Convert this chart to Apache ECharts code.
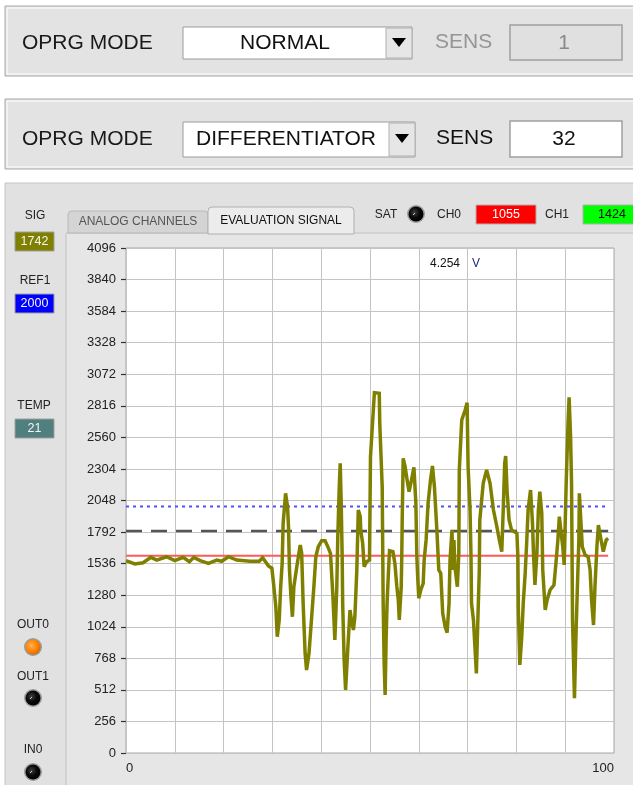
<!DOCTYPE html>
<html>
<head>
<meta charset="utf-8">
<script src="https://cdn.jsdelivr.net/npm/echarts@6/dist/echarts.min.js"></script>
<style>
html,body{margin:0;padding:0;background:#ffffff;}
#chart{width:633px;height:785px;}
</style>
</head>
<body>
<div id="chart"></div>
<script>
// ---- data ----
const sigX = [0,1.8,3.5,5.1,6.3,8.3,10.0,11.7,13.0,13.9,15.2,16.9,18.6,19.6,21.0,22.7,25.4,27.3,28.0,29.2,29.9,30.3,30.7,31.0,31.4,31.7,32.0,32.2,32.7,33.1,33.3,33.5,33.8,34.1,34.4,35.0,35.7,36.0,36.3,36.7,37.0,37.5,38.1,38.5,38.9,39.4,40.1,40.8,41.5,41.9,42.4,42.8,43.2,43.4,43.7,43.9,44.1,44.3,44.4,44.7,45.0,45.4,45.9,46.2,46.6,46.9,47.3,47.6,48.0,48.1,48.5,48.8,49.3,49.9,50.1,50.6,50.9,51.0,51.9,52.0,52.5,52.7,52.9,53.1,53.3,53.5,53.8,54.0,54.7,55.1,55.5,55.8,56.0,56.4,56.5,56.6,56.8,57.2,57.5,58.0,58.5,59.0,59.4,59.6,59.8,60.0,60.4,60.9,61.1,61.5,61.9,62.4,62.8,63.2,63.7,64.1,64.5,64.9,65.4,65.8,66.2,66.4,66.8,67.0,67.2,67.4,67.9,68.2,68.3,68.8,69.5,69.9,70.1,70.5,70.7,70.8,71.2,71.5,71.8,72.1,72.4,72.5,73.2,73.9,74.6,75.3,76.0,76.5,77.0,77.3,77.6,77.8,78.1,78.5,79.0,80.1,80.3,80.4,80.7,81.1,81.4,81.8,82.1,82.4,82.9,83.3,83.5,83.8,84.2,84.5,84.8,85.2,85.4,85.9,86.3,86.9,87.7,88.1,88.5,88.8,89.1,89.5,89.8,90.2,90.6,90.8,91.1,91.3,91.5,91.9,92.2,92.5,92.8,92.9,93.2,93.5,94.1,94.7,95.1,95.4,95.8,96.1,96.5,96.8,97.1,97.8,98.4,98.8];
const sigY = [1560,1533,1543,1587,1565,1592,1560,1587,1552,1587,1560,1538,1565,1555,1592,1565,1555,1555,1584,1517,1498,1349,1187,943,1079,1349,1538,1863,2106,1998,1835,1484,1268,1105,1349,1511,1687,1620,1214,809,673,809,1133,1349,1592,1673,1722,1722,1660,1620,1268,917,1349,1754,2160,2350,2025,1592,1214,754,511,809,1160,1079,998,1105,1484,1971,1917,1809,1701,1511,1552,1565,2403,2728,2922,2922,2917,2674,2160,1214,727,470,917,1214,1484,1641,1633,1538,1349,1241,1079,1349,1565,1890,2390,2322,2241,2119,2214,2317,2025,1592,1403,1255,1322,1376,1565,1728,2025,2214,2328,2160,1809,1484,1457,1133,1024,976,1214,1565,1809,1484,1728,1511,1349,1620,2296,2701,2782,2841,2322,1971,1592,1214,1079,862,646,1079,1484,1890,2187,2296,2187,1971,1835,1728,1633,1971,2350,2409,2119,1890,1809,1782,1592,1160,714,943,1214,1457,1701,1971,2133,1863,1620,1363,1620,1971,2119,1944,1484,1160,1241,1322,1363,1538,1728,1917,1809,1673,1525,2187,2701,2885,2566,2187,1079,444,943,1349,1728,2106,1890,1673,1606,1592,1484,1241,1038,1349,1673,1849,1782,1633,1728,1741];
const lineSpan = [0, 98.8];
const redLevel = 1600;
const dashLevel = 1800;
const ref1Level = 2000;
const yTickValues = [0,256,512,768,1024,1280,1536,1792,2048,2304,2560,2816,3072,3328,3584,3840,4096];
const xTickLabels = [0, 100];
const sigValue = '1742', ref1Value = '2000', tempValue = '21', ch0Value = '1055', ch1Value = '1424';
const voltText = '4.254';

const FF = '"Liberation Sans", Arial, sans-serif';
const chart = echarts.init(document.getElementById('chart'));

function txt(text, x, y, size, color, align, extra) {
  return Object.assign({type:'text', z:50, style:{text:text, x:x, y:y, font: size+'px '+FF, fill:color, textAlign:align||'center', textVerticalAlign:'middle'}}, extra||{});
}
function rect(x,y,w,h,fill,stroke,lw,z,r){
  return {type:'rect', z: z===undefined?-5:z, shape:{x:x,y:y,width:w,height:h,r:r||0}, style:{fill:fill, stroke:stroke||null, lineWidth:lw||1}};
}
function led(cx,cy,on){
  const fill = on ? {type:'radial',x:0.4,y:0.4,r:0.7,colorStops:[{offset:0,color:'#ffb050'},{offset:0.6,color:'#ff8000'},{offset:1,color:'#d06000'}]}
                  : {type:'radial',x:0.4,y:0.4,r:0.7,colorStops:[{offset:0,color:'#404040'},{offset:0.5,color:'#080808'},{offset:1,color:'#000000'}]};
  const els = [
    {type:'circle', z:40, shape:{cx:cx,cy:cy,r:9}, style:{fill:'#9a9a9a'}},
    {type:'circle', z:41, shape:{cx:cx,cy:cy,r:7.5}, style:{fill:fill}}
  ];
  if(!on) els.push({type:'line', z:42, shape:{x1:cx-3,y1:cy+1,x2:cx-1,y2:cy-1}, style:{stroke:'#d0d0d0', lineWidth:1}});
  return els;
}

const graphics = [];
// top panels
graphics.push(rect(5,6,640,70,'#e3e3e3','#a8a8a8',1,-20));
graphics.push(rect(7,8,640,66,null,'#ffffff',1,-19));
graphics.push(rect(5,99,640,70,'#e3e3e3','#a8a8a8',1,-20));
graphics.push(rect(7,101,640,66,null,'#ffffff',1,-19));
// main area
graphics.push(rect(5,183,640,610,'#e1e1e1','#c4c4c4',1,-20));
// chart frame panel
graphics.push(rect(66,233,580,560,'#e6e6e6','#c0c0c0',1,-15));

// panel 1
graphics.push(txt('OPRG MODE',22,43,21,'#1a1a1a','left'));
graphics.push(rect(183,27,229,32,'#ffffff','#9a9a9a',1,-10));
graphics.push(rect(386,28,26,30,'#e6e6e6','#b0b0b0',1,-9));
graphics.push({type:'polygon', z:30, shape:{points:[[392,38],[406,38],[399,47]]}, style:{fill:'#000'}});
graphics.push(txt('NORMAL',285,43,21,'#111','center'));
graphics.push(txt('SENS',435,42,21,'#959595','left'));
graphics.push(rect(510,25,112,35,'#e0e0e0','#a0a0a0',1.5,-10));
graphics.push(txt('1',564,43,21,'#8a8a8a','center'));

// panel 2
graphics.push(txt('OPRG MODE',22,139,21,'#1a1a1a','left'));
graphics.push(rect(183,122,232,35,'#ffffff','#9a9a9a',1,-10));
graphics.push(rect(389,123,26,33,'#e6e6e6','#b0b0b0',1,-9));
graphics.push({type:'polygon', z:30, shape:{points:[[395,134],[409,134],[402,143]]}, style:{fill:'#000'}});
graphics.push(txt('DIFFERENTIATOR',286,139,21,'#111','center'));
graphics.push(txt('SENS',436,138,21,'#111','left'));
graphics.push(rect(510,121,112,36,'#ffffff','#a0a0a0',1.5,-10));
graphics.push(txt('32',564,139,21,'#111','center'));

// left indicators
graphics.push(txt('SIG',35,216,12,'#222'));
graphics.push(rect(15,232,39,19,'#808000','#a0a0a0',1,-5));
graphics.push(txt(sigValue,34.5,242,12.5,'#f4f4f4'));
graphics.push(txt('REF1',35,281,12,'#222'));
graphics.push(rect(15,294,39,19,'#0000ff','#a0a0a0',1,-5));
graphics.push(txt(ref1Value,34.5,304,12.5,'#f4f4f4'));
graphics.push(txt('TEMP',34,406,12,'#222'));
graphics.push(rect(15,419,39,19,'#4f7f7f','#a0a0a0',1,-5));
graphics.push(txt(tempValue,34.5,429,12.5,'#f4f4f4'));
graphics.push(txt('OUT0',33,625,12,'#222'));
graphics.push.apply(graphics, led(33,647,true));
graphics.push(txt('OUT1',33,677,12,'#222'));
graphics.push.apply(graphics, led(33,698,false));
graphics.push(txt('IN0',33,750,12,'#222'));
graphics.push.apply(graphics, led(33,772,false));

// tabs
graphics.push(rect(68,211,140,22,'#d4d4d4','#b8b8b8',1,-12,[4,4,0,0]));
graphics.push(txt('ANALOG CHANNELS',138,222,12,'#555'));
graphics.push(rect(208,207,146,27,'#ececec','#b0b0b0',1,-11,[4,4,0,0]));
graphics.push(txt('EVALUATION SIGNAL',281,221,12,'#111'));
graphics.push(txt('SAT',386,215,12,'#222'));
graphics.push.apply(graphics, led(416,214,false));
graphics.push(txt('CH0',449,215,12,'#222'));
graphics.push(rect(476,205,60,19,'#ff0000','#b0b0b0',1,-5));
graphics.push(txt(ch0Value,506,215,12.5,'#ffffff'));
graphics.push(txt('CH1',557,215,12,'#222'));
graphics.push(rect(583,205,55,19,'#00ff00','#b0b0b0',1,-5));
graphics.push(txt(ch1Value,612,215,12.5,'#111'));

// voltage readout
graphics.push(txt(voltText,460,264,12,'#111','right'));
graphics.push(txt('V',472,264,12,'#1a2a80','left'));

const sigData = sigX.map((x,i)=>[x, sigY[i]]);
const mkLevel = v => lineSpan.map(x=>[x, v]);

const option = {
  animation:false,
  backgroundColor:'#ffffff',
  graphic: graphics,
  grid:{left:126, top:248, width:488, height:505, show:true, backgroundColor:'#ffffff', borderColor:'#a8a8a8', borderWidth:1, z:0},
  xAxis:{
    type:'value', min:0, max:100, interval:10,
    axisLine:{show:false}, axisTick:{show:false},
    splitLine:{show:true, lineStyle:{color:'#c4c4c4', width:1}},
    axisLabel:{
      margin:9, color:'#222', fontSize:13, fontFamily:FF,
      alignMinLabel:'left', alignMaxLabel:'right',
      formatter: v => xTickLabels.indexOf(v) >= 0 ? String(v) : ''
    }
  },
  yAxis:{
    type:'value', min:0, max:4096, interval:256, offset:2,
    axisLine:{show:false},
    axisTick:{show:true, length:5, lineStyle:{color:'#333', width:1.2}},
    splitLine:{show:true, lineStyle:{color:'#c4c4c4', width:1}},
    axisLabel:{margin:8, color:'#222', fontSize:13, fontFamily:FF,
      formatter: v => yTickValues.indexOf(v) >= 0 ? String(v) : ''}
  },
  series:[
    {type:'line', data:mkLevel(redLevel), symbol:'none', lineStyle:{color:'#ff5a5a', width:2}, z:3, silent:true},
    {type:'line', data:mkLevel(dashLevel), symbol:'none', lineStyle:{color:'#555555', width:2.5, type:[16,9]}, z:3, silent:true},
    {type:'line', data:mkLevel(ref1Level), symbol:'none', lineStyle:{color:'#5050ff', width:2, type:[3,4]}, z:3, silent:true},
    {type:'line', data:sigData, symbol:'none', lineStyle:{color:'#808000', width:3.5, join:'miter', miterLimit:3}, z:5, silent:true}
  ]
};
chart.setOption(option);
</script>
</body>
</html>
